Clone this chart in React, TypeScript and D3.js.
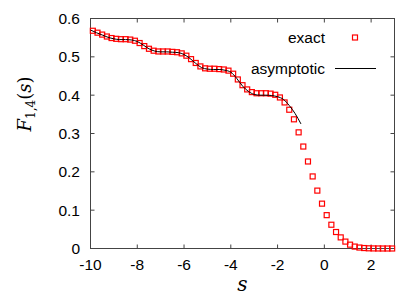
import React from "react";
import * as d3 from "d3";

// exact values sampled at s = -9.9, -9.7, ..., 2.9
const exactS = d3.range(65).map((k) => -9.9 + 0.2 * k);
const exactF = [
  0.568, 0.563, 0.558, 0.553, 0.549, 0.547, 0.546, 0.546, 0.545, 0.542,
  0.536, 0.528, 0.521, 0.516, 0.514, 0.514, 0.514, 0.513, 0.512, 0.509,
  0.503, 0.494, 0.484, 0.475, 0.47, 0.469, 0.469, 0.468, 0.467, 0.464,
  0.456, 0.441, 0.426, 0.415, 0.408, 0.405, 0.405, 0.405, 0.404, 0.401,
  0.394, 0.381, 0.362, 0.337, 0.303, 0.266, 0.227, 0.188, 0.151, 0.117,
  0.087, 0.062, 0.043, 0.029, 0.018, 0.01, 0.005, 0.0025, 0.0012, 0.0005,
  0.0002, 0.0001, 0, 0, 0,
];

// asymptotic curve, s = -10 .. -1 every 0.25
const asymS = d3.range(37).map((k) => -10 + 0.25 * k);
const asymF = [
  0.57, 0.563, 0.557, 0.551, 0.547, 0.545, 0.545, 0.544, 0.54, 0.531,
  0.521, 0.515, 0.513, 0.513, 0.512, 0.511, 0.506, 0.496, 0.483, 0.472,
  0.468, 0.467, 0.467, 0.465, 0.46, 0.444, 0.424, 0.41, 0.402, 0.4,
  0.4, 0.399, 0.396, 0.389, 0.373, 0.352, 0.325,
];

const xTicks = [-10, -8, -6, -4, -2, 0, 2];
const yTicks = [0, 0.1, 0.2, 0.3, 0.4, 0.5, 0.6];

const W = 416;
const H = 297;
const left = 90.5;
const right = 394.5;
const top = 18.5;
const bottom = 248.5;

export default function App() {
  const x = d3.scaleLinear().domain([-10, 3]).range([left, right]);
  const y = d3.scaleLinear().domain([0, 0.6]).range([bottom, top]);

  const line = d3
    .line<number>()
    .x((d, i) => x(asymS[i]))
    .y((d) => y(d))
    .curve(d3.curveMonotoneX);

  const font = "'Liberation Sans', Arial, sans-serif";
  const serif = "'DejaVu Serif', 'Liberation Serif', serif";
  const axisColor = "#444";
  const tk = 4;
  const fs = 15.5;

  return (
    <svg
      width={W}
      height={H}
      style={{ position: "absolute", left: 0, top: 0, background: "#fff" }}
    >
      {/* frame */}
      <rect
        x={left}
        y={top}
        width={right - left}
        height={bottom - top}
        fill="none"
        stroke={axisColor}
        strokeWidth={1}
      />
      {xTicks.map((t) => (
        <g key={"x" + t}>
          <line x1={x(t)} x2={x(t)} y1={bottom} y2={bottom - tk} stroke={axisColor} />
          <line x1={x(t)} x2={x(t)} y1={top} y2={top + tk} stroke={axisColor} />
          <text
            x={x(t)}
            y={bottom + 21.5}
            textAnchor="middle"
            fontFamily={font}
            fontSize={fs}
            fill="#000"
          >
            {t}
          </text>
        </g>
      ))}
      {yTicks.map((t) => (
        <g key={"y" + t}>
          <line x1={left} x2={left + tk} y1={y(t)} y2={y(t)} stroke={axisColor} />
          <line x1={right} x2={right - tk} y1={y(t)} y2={y(t)} stroke={axisColor} />
          <text
            x={80}
            y={y(t) + 5.5}
            textAnchor="end"
            fontFamily={font}
            fontSize={fs}
            fill="#000"
          >
            {t}
          </text>
        </g>
      ))}

      {/* exact points */}
      {exactF.map((v, i) => (
        <rect
          key={"p" + i}
          x={x(exactS[i]) - 2.5}
          y={y(v) - 2.5}
          width={5}
          height={5}
          fill="none"
          stroke="#f00"
          strokeWidth={1.2}
        />
      ))}

      {/* asymptotic curve */}
      <path d={line(asymF) || ""} fill="none" stroke="#000" strokeWidth={1} />

      {/* legend */}
      <text x={325} y={43} textAnchor="end" fontFamily={font} fontSize={fs} fill="#000">
        exact
      </text>
      <rect x={352.5} y={35} width={5} height={5} fill="none" stroke="#f00" strokeWidth={1.2} />
      <text x={325} y={74} textAnchor="end" fontFamily={font} fontSize={fs} fill="#000">
        asymptotic
      </text>
      <line x1={335} x2={376} y1={68.5} y2={68.5} stroke="#000" strokeWidth={1} />

      {/* axis labels */}
      <text
        transform="translate(31,104) rotate(-90)"
        textAnchor="middle"
        fontFamily={serif}
        fontSize={18}
        fill="#000"
      >
        <tspan fontStyle="italic">F</tspan>
        <tspan fontSize={12} dy={4}>1,4</tspan>
        <tspan dy={-4}>(</tspan>
        <tspan fontStyle="italic">s</tspan>
        <tspan>)</tspan>
      </text>
      <text
        x={(left + right) / 2}
        y={291}
        textAnchor="middle"
        fontFamily={serif}
        fontStyle="italic"
        fontSize={20}
        fill="#000"
      >
        s
      </text>
    </svg>
  );
}
